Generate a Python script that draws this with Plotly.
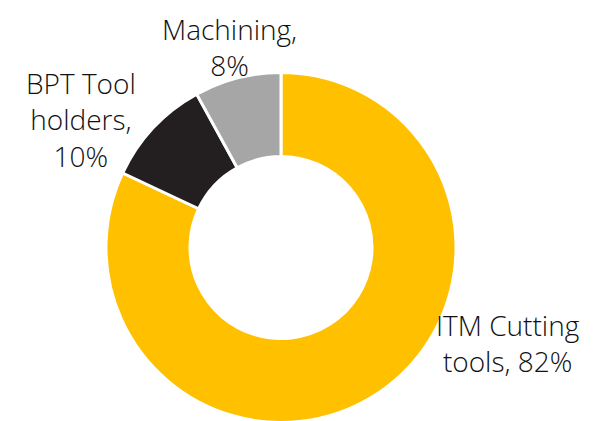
import plotly.graph_objects as go

labels = ["ITM Cutting tools", "BPT Tool holders", "Machining"]
values = [82, 10, 8]
colors = ["#FFC000", "#231F20", "#A6A6A6"]

# label text (as wrapped on the chart), built from the data
label_texts = [
    f"ITM Cutting<br>tools, {values[0]}%",
    f"BPT Tool<br>holders,<br>{values[1]}%",
    f"Machining,<br>{values[2]}%",
]
# label block centres in page pixels (x, y)
label_pos = [(508, 343), (81, 119), (229, 47)]

W, H = 610, 421
OFF = 8  # page body margin offset

cx, cy, R = 281 - OFF, 247.5 - OFF, 175

fig = go.Figure(go.Pie(
    labels=labels,
    values=values,
    sort=False,
    direction="clockwise",
    rotation=0,
    hole=0.52,
    marker=dict(colors=colors, line=dict(color="white", width=3)),
    textinfo="none",
    hoverinfo="label+percent",
    showlegend=False,
    domain=dict(x=[(cx - R) / W, (cx + R) / W],
                y=[1 - (cy + R) / H, 1 - (cy - R) / H]),
))

annotations = []
for text, (px, py) in zip(label_texts, label_pos):
    annotations.append(dict(
        text=text, x=(px - OFF) / W, y=1 - (py - OFF) / H,
        xref="paper", yref="paper", align="center",
        xanchor="center", yanchor="middle", showarrow=False,
        font=dict(family="Open Sans", size=28, color="#111111", weight=300),
    ))

fig.update_layout(
    width=W, height=H,
    margin=dict(l=0, r=0, t=0, b=0),
    paper_bgcolor="white", plot_bgcolor="white",
    annotations=annotations,
)

fig.write_html("out.html")
